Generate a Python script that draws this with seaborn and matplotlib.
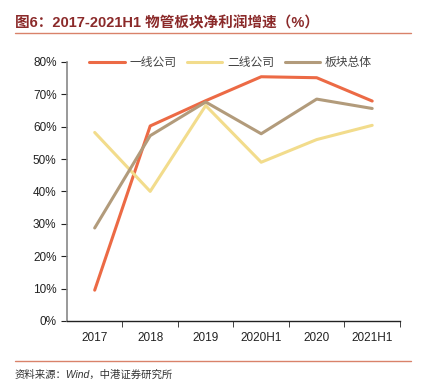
import matplotlib
matplotlib.use("Agg")
import matplotlib.pyplot as plt
from matplotlib.ticker import FixedLocator, PercentFormatter
import pandas as pd
import seaborn as sns

periods = ["2017", "2018", "2019", "2020H1", "2020", "2021H1"]
tier1 = [9.5, 60.2, 68.0, 75.4, 75.1, 67.9]
tier2 = [58.2, 40.0, 66.5, 49.0, 56.0, 60.4]
sector = [28.7, 57.2, 67.6, 57.8, 68.5, 65.6]
series_names = ["一线公司", "二线公司", "板块总体"]

sns.set_style("white")
plt.rcParams['font.family'] = ['Liberation Sans', 'Noto Sans CJK SC', 'DejaVu Sans']

rows = []
for name, vals in zip(series_names, [tier1, tier2, sector]):
    for i, v in enumerate(vals):
        rows.append({"period": i, "value": v, "series": name})
df = pd.DataFrame(rows)

palette = {"一线公司": "#EC6A45", "二线公司": "#F2DC8C", "板块总体": "#B29B7B"}

fig = plt.figure(figsize=(4.21, 3.89), dpi=100)
ax = fig.add_axes([0.159, 0.175, 0.791, 0.666])

sns.lineplot(data=df, x="period", y="value", hue="series", palette=palette,
             linewidth=2.2, ax=ax, legend=True)

ax.set_xlim(-0.5, 5.5)
ax.set_ylim(0, 80)
ax.set_yticks(range(0, 81, 10))
ax.yaxis.set_major_formatter(PercentFormatter(decimals=0))
ax.set_xticks(range(len(periods)))
ax.set_xticklabels(periods)
ax.xaxis.set_minor_locator(FixedLocator([i + 0.5 for i in range(len(periods))]))
ax.tick_params(axis="x", which="major", length=0, pad=8, labelsize=8.5, colors="#222222")
ax.tick_params(axis="x", which="minor", length=4, direction="out", color="#222222", bottom=True)
ax.tick_params(axis="y", length=4, direction="out", labelsize=8.5, colors="#222222", left=True)
ax.set_xlabel("")
ax.set_ylabel("")

for s in ["top", "right"]:
    ax.spines[s].set_visible(False)
ax.spines["left"].set_color("#888888")
ax.spines["left"].set_linewidth(1.2)
ax.spines["bottom"].set_color("#222222")
ax.spines["bottom"].set_linewidth(1.0)

leg = ax.legend(loc="upper left", bbox_to_anchor=(0.035, 1.06), ncol=3, frameon=False,
                fontsize=8.5, handlelength=3.0, columnspacing=0.9, handletextpad=0.4)
for t in leg.get_texts():
    t.set_color("#444444")

fig.text(0.035, 0.94, "图6：2017-2021H1 物管板块净利润增速（%）", fontsize=10.5,
         fontweight="bold", color="#8B2A2A", ha="left", va="center")
fig.add_artist(plt.Line2D([0.035, 0.977], [0.915, 0.915], color="#D9826A", linewidth=1.0))
fig.add_artist(plt.Line2D([0.035, 0.977], [0.072, 0.072], color="#D9826A", linewidth=1.0))
fig.text(0.035, 0.036, "资料来源：Wind，中港证券研究所", fontsize=7.5, style="italic",
         color="#333333", ha="left", va="center")

fig.savefig("out.png", dpi=100)
